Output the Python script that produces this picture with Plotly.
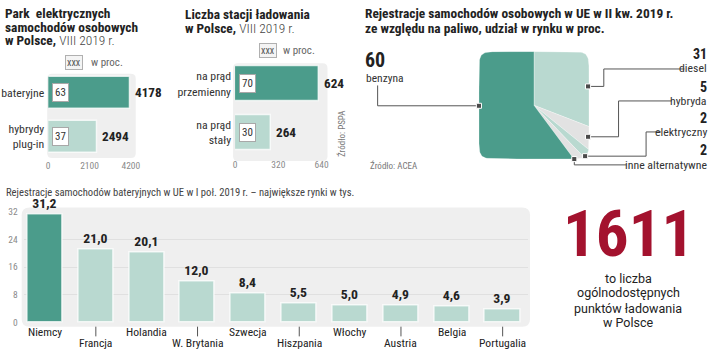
import numpy as np
import plotly.graph_objects as go

# ---------------- DATA ----------------
park_cats = ["bateryjne", "hybrydy<br>plug-in"]
park_vals = [4178, 2494]
park_pct = [63, 37]
park_ticks = [0, 2100, 4200]

stacje_cats = ["na prąd<br>przemienny", "na prąd<br>stały"]
stacje_vals = [624, 264]
stacje_pct = [70, 30]
stacje_ticks = [0, 320, 640]

fuel_names = ["diesel", "hybryda", "elektryczny", "inne alternatywne", "benzyna"]
fuel_share = [31, 5, 2, 2, 60]

countries = ["Niemcy", "Francja", "Holandia", "W. Brytania", "Szwecja",
             "Hiszpania", "Włochy", "Austria", "Belgia", "Portugalia"]
bev_regs = [31.2, 21.0, 20.1, 12.0, 8.4, 5.5, 5.0, 4.9, 4.6, 3.9]
bev_ticks = [0, 8, 16, 24, 32]

points_total = 1611

# ---------------- STYLE ----------------
W, H = 720, 353
DARK = "#4b9c8b"
LIGHT = "#b9d9d0"
GREY = "#e2e2e2"
RED = "#a3122e"
PANEL = "#efefef"
FC = "Roboto Condensed"
FR = "Roboto"
TXT = "#222222"
VALSIZE = 13.2


def px(x):
    return x / W


def py(y):
    return 1 - y / H


def rrect(x0, y0, x1, y1, r):
    def P(x, y):
        return f"{px(x):.5f},{py(y):.5f}"
    return (f"M {P(x0 + r, y0)} L {P(x1 - r, y0)} Q {P(x1, y0)} {P(x1, y0 + r)} "
            f"L {P(x1, y1 - r)} Q {P(x1, y1)} {P(x1 - r, y1)} L {P(x0 + r, y1)} "
            f"Q {P(x0, y1)} {P(x0, y1 - r)} L {P(x0, y0 + r)} Q {P(x0, y0)} {P(x0 + r, y0)} Z")


shapes = []
annotations = []


def ann(x, y, text, size=11, family=FC, color=TXT, xanchor="left", yanchor="middle", **kw):
    d = dict(x=px(x), y=py(y), xref="paper", yref="paper", text=text, showarrow=False,
             xanchor=xanchor, yanchor=yanchor, font=dict(family=family, size=size, color=color))
    d.update(kw)
    annotations.append(d)


def polyline(points, color="#555555", width=1):
    path = "M " + " L ".join(f"{px(x):.5f},{py(y):.5f}" for x, y in points)
    shapes.append(dict(type="path", path=path, xref="paper", yref="paper",
                       line=dict(color=color, width=width), layer="above"))


def marker(x, y, s=2.6):
    shapes.append(dict(type="rect", xref="paper", yref="paper",
                       x0=px(x - s), x1=px(x + s), y0=py(y + s), y1=py(y - s),
                       fillcolor="#4a4a4a", line=dict(color="white", width=1), layer="above"))


fig = go.Figure()

# ---------------- Panel 1: park ----------------
shapes.append(dict(type="path", path=rrect(46, 70, 136, 157, 5), xref="paper", yref="paper",
                   fillcolor=PANEL, line=dict(width=0), layer="below"))
fig.add_trace(go.Bar(y=park_cats, x=park_vals, orientation="h", xaxis="x", yaxis="y",
                     marker=dict(color=[DARK, LIGHT], line=dict(color="rgba(255,255,255,0.75)", width=1.5)),
                     width=0.72, hoverinfo="skip"))
for c, v, p in zip(park_cats, park_vals, park_pct):
    annotations.append(dict(x=v, y=c, xref="x", yref="y", text=f"<b>{v}</b>", showarrow=False,
                            xanchor="left", xshift=3, font=dict(family=FC, size=VALSIZE, color=TXT)))
    annotations.append(dict(x=0, y=c, xref="x", yref="y", text=str(p), showarrow=False,
                            xanchor="left", xshift=4, bgcolor="white", bordercolor="#a8a8a8",
                            borderwidth=1, borderpad=2, font=dict(family=FC, size=11, color="#333")))

ann(73, 58, "xxx", size=10, color="#555", xanchor="center", bgcolor="#f4f4f4",
    bordercolor="#b0b0b0", borderwidth=1, borderpad=1)
ann(88, 58, "w proc.", size=11, color="#666")

# ---------------- Panel 2: stations ----------------
shapes.append(dict(type="path", path=rrect(235, 59, 331, 160, 5), xref="paper", yref="paper",
                   fillcolor=PANEL, line=dict(width=0), layer="below"))
fig.add_trace(go.Bar(y=stacje_cats, x=stacje_vals, orientation="h", xaxis="x2", yaxis="y2",
                     marker=dict(color=[DARK, LIGHT], line=dict(color="rgba(255,255,255,0.75)", width=1.5)),
                     width=0.72, hoverinfo="skip"))
for c, v, p in zip(stacje_cats, stacje_vals, stacje_pct):
    annotations.append(dict(x=v, y=c, xref="x2", yref="y2", text=f"<b>{v}</b>", showarrow=False,
                            xanchor="left", xshift=3, font=dict(family=FC, size=VALSIZE, color=TXT)))
    annotations.append(dict(x=0, y=c, xref="x2", yref="y2", text=str(p), showarrow=False,
                            xanchor="left", xshift=4, bgcolor="white", bordercolor="#a8a8a8",
                            borderwidth=1, borderpad=2, font=dict(family=FC, size=11, color="#333")))
ann(270, 46, "xxx", size=10, color="#555", xanchor="center", bgcolor="#f4f4f4",
    bordercolor="#b0b0b0", borderwidth=1, borderpad=1)
ann(284, 46, "w proc.", size=11, color="#666")
ann(346, 132, "Źródło: PSPA", size=9, color="#777", xanchor="center", textangle=-90)

# ---------------- Titles ----------------
TS = 13.4
LIGHTSPAN = "<span style='font-weight:300;color:#444'>VIII 2019 r.</span>"
ann(1, 8, "<b>Park&nbsp; elektrycznych</b>", size=TS)
ann(1, 22, "<b>samochodów osobowych</b>", size=TS)
ann(1, 36, "<b>w Polsce,</b> " + LIGHTSPAN, size=TS)
ann(184, 9, "<b>Liczba stacji ładowania</b>", size=TS)
ann(184, 23, "<b>w Polsce,</b> " + LIGHTSPAN, size=TS)
ann(367, 8, "<b>Rejestracje samochodów osobowych w UE w II kw. 2019 r.</b>", size=TS)
ann(367, 23, "<b>ze względu na paliwo, udział w rynku w proc.</b>", size=TS)

# ---------------- Panel 3: square "pie" ----------------
colors3 = [LIGHT, GREY, LIGHT, GREY, DARK]
n = 12.0
cum = np.concatenate([[0], np.cumsum(fuel_share)]) / np.sum(fuel_share) * 2 * np.pi
for i, name in enumerate(fuel_names):
    th = np.linspace(cum[i], cum[i + 1], max(4, int(fuel_share[i] * 4)))
    dx, dy = np.sin(th), np.cos(th)
    r = (np.abs(dx) ** n + np.abs(dy) ** n) ** (-1 / n)
    xs = np.concatenate([[0], r * dx, [0]])
    ys = np.concatenate([[0], r * dy, [0]])
    fig.add_trace(go.Scatter(x=xs, y=ys, xaxis="x3", yaxis="y3", mode="lines", fill="toself",
                             fillcolor=colors3[i], line=dict(color="rgba(255,255,255,0.6)", width=0.5),
                             hoverinfo="skip", name=name))

polyline([(382, 82), (382, 103), (485, 103)])
marker(485, 103)
ann(367, 56, f"<b>{fuel_share[4]}</b>", size=20, family=FC)
ann(368, 74, fuel_names[4], size=11.5, color="#333")

polyline([(694, 65), (612, 65), (612, 83), (596, 83)])
marker(596, 83)
polyline([(681, 98), (627, 98), (627, 135), (596, 135)])
marker(596, 135)
polyline([(670, 130), (655, 130), (655, 155), (593, 155)])
marker(593, 155)
polyline([(635, 164), (582, 164), (582, 158)])
marker(582, 158)
label_y = [(50, 64), (84, 98), (116, 130), (149, 164)]
for k in range(4):
    ann(719, label_y[k][0], f"<b>{fuel_share[k]}</b>", size=14, family=FC, xanchor="right")
    ann(719, label_y[k][1], fuel_names[k], size=11.8, color="#333", xanchor="right")
ann(372, 165, "Źródło: ACEA", size=9, color="#777")

# ---------------- Panel 4: BEV registrations ----------------
ann(2, 192, "Rejestracje samochodów bateryjnych w UE w I poł. 2019 r. – największe rynki w tys.",
    size=10.6, color="#444")
shapes.append(dict(type="path", path=rrect(20, 208, 537, 331, 8), xref="paper", yref="paper",
                   fillcolor=PANEL, line=dict(width=0), layer="below"))
fig.add_trace(go.Bar(x=countries, y=bev_regs, xaxis="x4", yaxis="y4",
                     marker=dict(color=[DARK] + [LIGHT] * (len(countries) - 1),
                                 line=dict(color="rgba(255,255,255,0.75)", width=1.5)),
                     width=0.69, text=[f"{v:.1f}".replace(".", ",") for v in bev_regs],
                     textposition="outside", cliponaxis=False,
                     textfont=dict(family=FC, size=VALSIZE + 0.5, color=TXT),
                     texttemplate="<b>%{text}</b>", hoverinfo="skip"))
for i, c in enumerate(countries):
    yy = 336 if i % 2 == 0 else 348
    annotations.append(dict(x=c, y=py(yy), xref="x4", yref="paper", text=c, showarrow=False,
                            xanchor="center", yanchor="middle", font=dict(family=FC, size=11.6, color=TXT)))
    if i % 2 == 1:
        shapes.append(dict(type="line", x0=c, x1=c, xref="x4", yref="paper", y0=py(331), y1=py(341),
                           line=dict(color="#555", width=1)))

# ---------------- 1611 ----------------
ann(637.5, 235, f"<b>{points_total}</b>", size=65, family=FC, color=RED, xanchor="center")
for t, yy in zip(["to liczba", "ogólnodostępnych", "punktów ładowania", "w Polsce"], [281, 296, 312, 327]):
    ann(637, yy, t, size=12.5, family=FR, color=TXT, xanchor="center")

# ---------------- Layout ----------------
tickf = dict(family=FC, size=9.5, color="#8a8a8a")
fig.update_layout(
    width=W, height=H, margin=dict(l=0, r=0, t=0, b=0),
    paper_bgcolor="white", plot_bgcolor="rgba(0,0,0,0)", showlegend=False, bargap=0,
    xaxis=dict(domain=[px(47), px(131)], range=[0, 4200], anchor="y", tickvals=park_ticks,
               tickfont=tickf, showgrid=False, zeroline=False, showline=False),
    yaxis=dict(domain=[py(157.5), py(67)], anchor="x", autorange="reversed",
               tickfont=dict(family=FC, size=11.8, color="#333"),
               showgrid=False, zeroline=False, showline=False, ticklabelstandoff=3),
    xaxis2=dict(domain=[px(237), px(325)], range=[0, 640], anchor="y2", tickvals=stacje_ticks,
                tickfont=tickf, showgrid=False, zeroline=False, showline=False),
    yaxis2=dict(domain=[py(156), py(55)], anchor="x2", autorange="reversed",
                tickfont=dict(family=FC, size=11.8, color="#333"),
                showgrid=False, zeroline=False, showline=False, ticklabelstandoff=3),
    xaxis3=dict(domain=[px(485), px(597)], range=[-1, 1], anchor="y3", visible=False),
    yaxis3=dict(domain=[py(158), py(47)], range=[-1, 1], anchor="x3", visible=False),
    xaxis4=dict(domain=[px(22), px(535)], range=[-0.42, 9.5], anchor="y4", showticklabels=False,
                showgrid=False, zeroline=False, showline=False),
    yaxis4=dict(domain=[py(327), py(212)], range=[0, 32], anchor="x4", tickvals=bev_ticks,
                tickfont=tickf, showgrid=True, gridcolor="#e0e0e0", gridwidth=1, zeroline=False,
                showline=False, ticklabelstandoff=5),
    shapes=shapes, annotations=annotations,
)
fig.write_html("out.html")
